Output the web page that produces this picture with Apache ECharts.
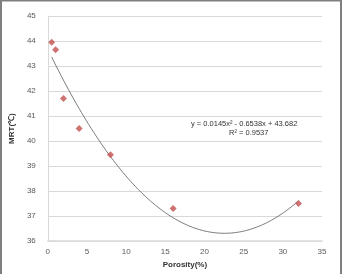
<!DOCTYPE html>
<html><head><meta charset="utf-8">
<script src="https://cdn.jsdelivr.net/npm/echarts@6/dist/echarts.min.js"></script>
<style>html,body{margin:0;padding:0;background:#fff}#c{width:343px;height:274px}</style>
</head><body><div id="c"></div>
<script>
const porosity = [0.5, 1, 2, 4, 8, 16, 32];
const mrt = [43.95, 43.65, 41.7, 40.5, 39.45, 37.3, 37.5];
// trendline coefficients as printed on the chart: y = a x^2 + b x + c
const trendCoef = [0.0145, -0.6538, 43.682];
const trendRange = [0.5, 32];
const trend = [];
for (let i = 0; i <= 100; i++) {
  const x = trendRange[0] + (trendRange[1] - trendRange[0]) * i / 100;
  trend.push([x, trendCoef[0]*x*x + trendCoef[1]*x + trendCoef[2]]);
}
const chart = echarts.init(document.getElementById('c'), null, {renderer:'canvas'});
const ff = 'Liberation Sans, Arial, sans-serif';
const lab = {color:'#595959', fontSize:8, fontFamily:ff};
chart.setOption({
  animation:false,
  grid:{left:40, right:21, top:16, bottom:32},
  xAxis:{type:'value', min:0, max:35, interval:5,
    name:'Porosity(%)', nameLocation:'middle', nameGap:19,
    nameTextStyle:{fontSize:8, fontWeight:'bold', color:'#333', fontFamily:ff},
    axisLine:{lineStyle:{color:'#d9d9d9', width:1.5}}, axisTick:{show:false},
    axisLabel:Object.assign({margin:7}, lab), splitLine:{show:false}},
  yAxis:{type:'value', min:36, max:45, interval:1,
    name:'MRT(℃)', nameLocation:'middle', nameGap:25,
    nameTextStyle:{fontSize:8, fontWeight:'bold', color:'#333', fontFamily:ff},
    axisLine:{show:true, lineStyle:{color:'#d9d9d9', width:1}}, axisTick:{show:false},
    axisLabel:Object.assign({margin:12}, lab),
    splitLine:{lineStyle:{color:'#d9d9d9', width:1}}},
  series:[
    {type:'line', data:trend, showSymbol:false, smooth:false,
     lineStyle:{color:'#5a5a5a', width:0.8}, z:2},
    {type:'scatter', data:porosity.map((x,i)=>[x, mrt[i]]), symbol:'diamond', symbolSize:7,
     itemStyle:{color:'#c0504d'}, z:3}
  ],
  graphic:[
    {type:'rect', shape:{x:1, y:0.5, width:340, height:280}, style:{fill:null, stroke:'#7f7f7f', lineWidth:2}, silent:true},
    {type:'text', left:191, top:120, style:{text:'y = 0.0145x² - 0.6538x + 43.682', fontSize:7.5, fill:'#333', fontFamily:ff}},
    {type:'text', left:229, top:129, style:{text:'R² = 0.9537', fontSize:7.5, fill:'#333', fontFamily:ff}}
  ]
});
</script></body></html>
